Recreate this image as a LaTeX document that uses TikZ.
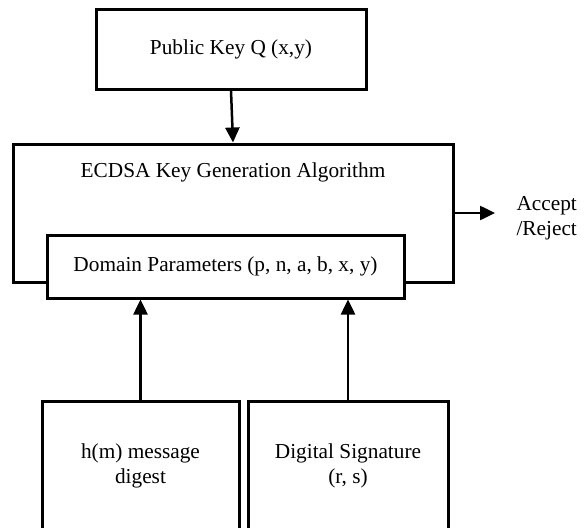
\documentclass[tikz,border=0pt]{standalone}
\usepackage{fontspec}
\setmainfont{Liberation Serif}
\usetikzlibrary{arrows.meta, positioning}

\begin{document}
\begin{tikzpicture}[x=1pt, y=-1pt,
    font=\fontsize{21.3}{25}\selectfont,
    box/.style={draw, line width=3pt, fill=white, align=center},
    link/.style={line width=2.5pt, -{Triangle[length=15pt, width=14pt]}}]
    \clip (0,0) rectangle (588,527);
    % key and algorithm
    \node[box, minimum width=270pt, minimum height=79pt] (pub) at (231,49.5) {Public Key Q (x,y)};
    \node[box, minimum width=440pt, minimum height=138pt] (alg) at (233,213) {};
    \node (algtxt) at (233,172) {ECDSA Key Generation Algorithm};
    \node[box, minimum width=357pt, minimum height=63pt] (dom) at (225.5,266.5)
        {Domain Parameters (p, n, a, b, x, y)};
    % inputs, running off the bottom
    \node[box, minimum width=197pt, minimum height=130pt] (hash) at (140.5,466)
        {h(m) message\\digest};
    \node[box, minimum width=200pt, minimum height=130pt] (sig) at (348,466)
        {Digital Signature\\(r, s)};
    \coordinate (out) at (495,213);
    \node[right=18pt of out, yshift=-5pt, align=left] (res) {Accept\\/Reject};
    \draw[link] (pub.south) -- (alg.north);
    \draw[link] (alg.east) -- (out);
    \draw[link] (hash.north) -- (hash.north |- dom.south);
    \draw[link] (sig.north) -- (sig.north |- dom.south);
\end{tikzpicture}
\end{document}
